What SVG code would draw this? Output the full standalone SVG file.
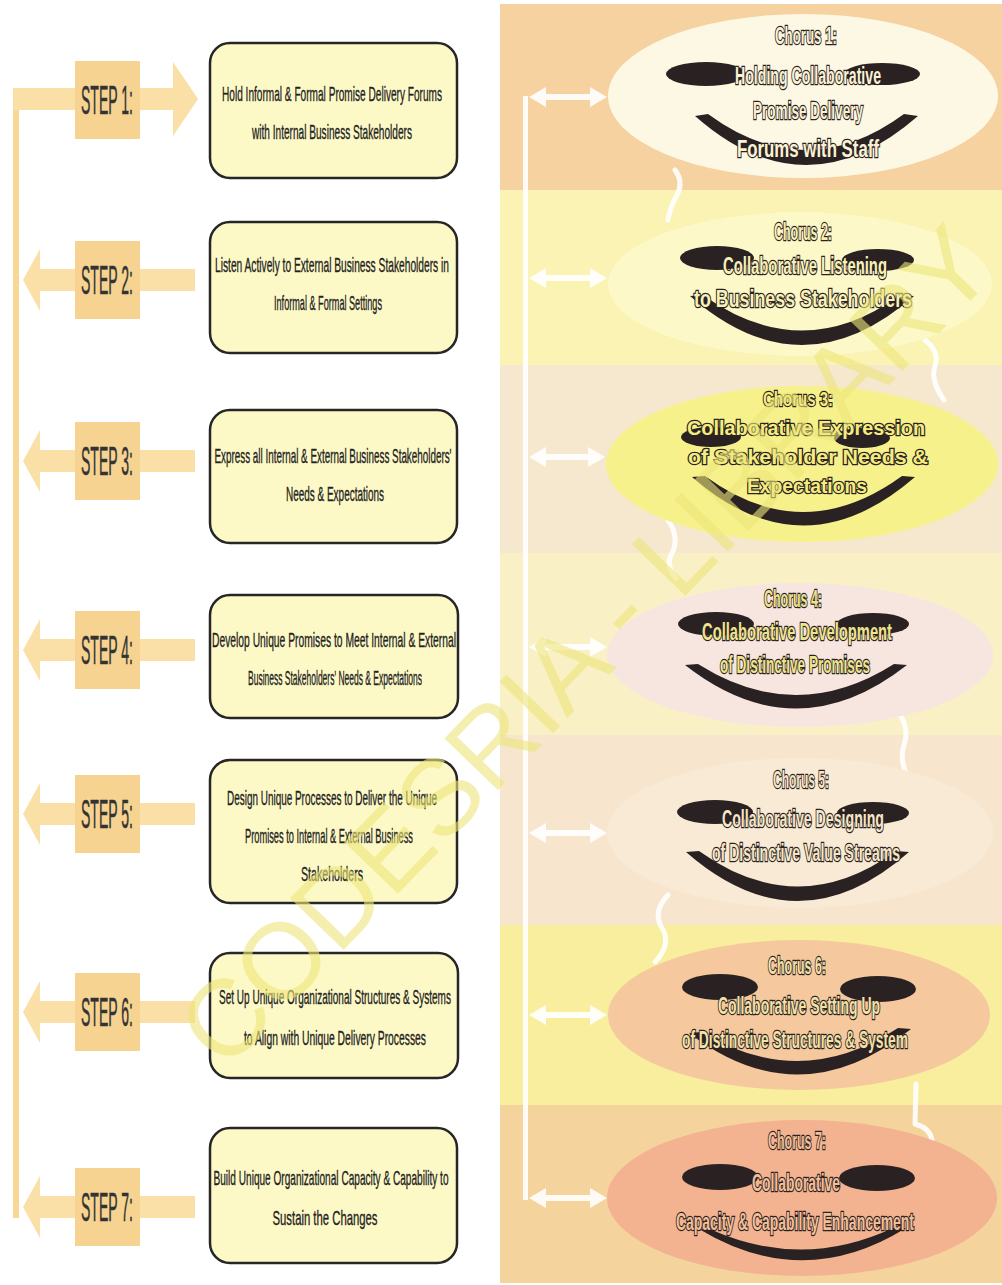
<svg xmlns="http://www.w3.org/2000/svg" width="1002" height="1285" viewBox="0 0 1002 1285">
  <style>
    .bg { fill: #ffffff; }
    .spine { fill: #f7d894; }
    .arrow { fill: #fadfa6; }
    .lbl { fill: #f6d390; }
    .lbltxt { font-family: "Liberation Sans Narrow", "Liberation Sans", Arial, sans-serif; font-size: 40px; fill: #333333; stroke: #333333; stroke-width: 0.5; text-anchor: middle; }
    .box { fill: #fdf9c6; stroke: #262626; stroke-width: 2.5; }
    .boxtxt { font-family: "Liberation Sans Narrow", "Liberation Sans", Arial, sans-serif; font-size: 21px; fill: #222222; stroke: #222222; stroke-width: 0.35; text-anchor: middle; }
    .feat { fill: #2a2222; }
    .ctxt { font-family: "Liberation Sans Narrow", "Liberation Sans", Arial, sans-serif; font-weight: bold; font-size: 23px; stroke: #2a2222; stroke-width: 2.4; paint-order: stroke; text-anchor: middle; }
    .ctxt3 { font-family: "Liberation Sans", Arial, sans-serif; font-size: 20px; }
    .link { fill: #ffffff; opacity: 0.9; }
    .bolt { fill: none; stroke: #ffffff; stroke-width: 5; stroke-linecap: round; stroke-linejoin: round; opacity: 0.9; }
    .mark { font-family: "Liberation Sans", Arial, sans-serif; font-size: 108px; fill: #ede67a; opacity: 0.6; text-anchor: middle; }
  </style>

  <rect class="bg" x="0" y="0" width="1002" height="1285"/>

  <!-- coloured bands behind the chorus column -->
  <g id="bands">
    <rect x="500" y="4" width="502" height="187" fill="#f5d2a0"/>
    <rect x="500" y="190" width="502" height="176" fill="#faf3b3"/>
    <rect x="500" y="365" width="502" height="189" fill="#f6e8cf"/>
    <rect x="500" y="553" width="502" height="183" fill="#faf0c6"/>
    <rect x="500" y="735" width="502" height="191" fill="#f7e6cd"/>
    <rect x="500" y="925" width="502" height="181" fill="#f8ee9e"/>
    <rect x="500" y="1105" width="502" height="178" fill="#f5d39d"/>
  </g>

  <!-- connectors -->
  <g id="connectors">
    <!-- left feedback spine and step arrows -->
    <rect class="spine" x="13" y="88" width="6" height="1130"/>
    <polygon class="arrow" points="13,88 173,88 173,62 198,99 173,136 173,110 13,110"/>
    <polygon class="arrow" points="23,280 40,249 40,269 195,269 195,291 40,291 40,311"/>
    <polygon class="arrow" points="23,461 40,430 40,450 195,450 195,472 40,472 40,492"/>
    <polygon class="arrow" points="23,650 40,619 40,639 195,639 195,661 40,661 40,681"/>
    <polygon class="arrow" points="23,814 40,783 40,803 195,803 195,825 40,825 40,845"/>
    <polygon class="arrow" points="23,1012 40,981 40,1001 195,1001 195,1023 40,1023 40,1043"/>
    <polygon class="arrow" points="23,1207 40,1176 40,1196 195,1196 195,1218 40,1218 40,1238"/>

    <!-- right spine and double-headed links to each chorus -->
    <rect class="link" x="523" y="96" width="5" height="1104"/>
    <g id="links">
      <polygon class="link" points="529,97 546,87 546,94 590,94 590,87 607,97 590,107 590,100 546,100 546,107"/>
      <polygon class="link" points="529,278 546,268 546,275 590,275 590,268 607,278 590,288 590,281 546,281 546,288"/>
      <polygon class="link" points="529,457 546,447 546,454 588,454 588,447 605,457 588,467 588,460 546,460 546,467" opacity="0.6"/>
      <polygon class="link" points="529,647 546,637 546,644 590,644 590,637 607,647 590,657 590,650 546,650 546,657" opacity="0.6"/>
      <polygon class="link" points="529,833 546,823 546,830 590,830 590,823 607,833 590,843 590,836 546,836 546,843" opacity="0.6"/>
      <polygon class="link" points="529,1015 546,1005 546,1012 590,1012 590,1005 607,1015 590,1025 590,1018 546,1018 546,1025"/>
      <polygon class="link" points="529,1198 546,1188 546,1195 590,1195 590,1188 607,1198 590,1208 590,1201 546,1201 546,1208"/>
    </g>

    <!-- lightning links between consecutive choruses -->
    <path class="bolt" d="M675,170 Q684,182 677,195 Q670,207 668,220"/>
    <path class="bolt" d="M925,340 Q940,352 935,366 Q930,380 944,400"/>
    <path class="bolt" d="M668,520 Q680,538 672,553 Q665,565 676,578" opacity="0.6"/>
    <path class="bolt" d="M898,712 Q910,728 904,745 Q898,762 912,785" opacity="0.6"/>
    <path class="bolt" d="M668,895 Q652,912 662,928 Q672,944 655,962"/>
    <path class="bolt" d="M916,1084 L915,1124 Q930,1128 932,1140 L934,1168"/>
  </g>

  <!-- step nodes -->
  <g id="step1">
    <rect class="lbl" x="75" y="61" width="65" height="78"/>
    <text class="lbltxt" x="107" y="114" textLength="52" lengthAdjust="spacingAndGlyphs">STEP 1:</text>
    <rect class="box" x="210" y="43" width="247" height="135" rx="20"/>
    <text class="boxtxt" x="332" y="101" textLength="220" lengthAdjust="spacingAndGlyphs">Hold Informal &amp; Formal Promise Delivery Forums</text>
    <text class="boxtxt" x="332" y="139" textLength="160" lengthAdjust="spacingAndGlyphs">with Internal Business Stakeholders</text>
  </g>
  <g id="step2">
    <rect class="lbl" x="75" y="241" width="65" height="78"/>
    <text class="lbltxt" x="107" y="294" textLength="52" lengthAdjust="spacingAndGlyphs">STEP 2:</text>
    <rect class="box" x="210" y="222" width="247" height="131" rx="20"/>
    <text class="boxtxt" x="332" y="272" textLength="234" lengthAdjust="spacingAndGlyphs">Listen Actively to External Business Stakeholders in</text>
    <text class="boxtxt" x="328" y="310" textLength="108" lengthAdjust="spacingAndGlyphs">Informal &amp; Formal Settings</text>
  </g>
  <g id="step3">
    <rect class="lbl" x="75" y="422" width="65" height="78"/>
    <text class="lbltxt" x="107" y="475" textLength="52" lengthAdjust="spacingAndGlyphs">STEP 3:</text>
    <rect class="box" x="210" y="410" width="247" height="133" rx="20"/>
    <text class="boxtxt" x="333" y="463" textLength="237" lengthAdjust="spacingAndGlyphs">Express all Internal &amp; External Business Stakeholders'</text>
    <text class="boxtxt" x="335" y="501" textLength="98" lengthAdjust="spacingAndGlyphs">Needs &amp; Expectations</text>
  </g>
  <g id="step4">
    <rect class="lbl" x="75" y="611" width="65" height="78"/>
    <text class="lbltxt" x="107" y="664" textLength="52" lengthAdjust="spacingAndGlyphs">STEP 4:</text>
    <rect class="box" x="210" y="595" width="248" height="123" rx="20"/>
    <text class="boxtxt" x="334" y="647" textLength="244" lengthAdjust="spacingAndGlyphs">Develop Unique Promises to Meet Internal &amp; External</text>
    <text class="boxtxt" x="335" y="685" textLength="174" lengthAdjust="spacingAndGlyphs">Business Stakeholders' Needs &amp; Expectations</text>
  </g>
  <g id="step5">
    <rect class="lbl" x="75" y="775" width="65" height="78"/>
    <text class="lbltxt" x="107" y="828" textLength="52" lengthAdjust="spacingAndGlyphs">STEP 5:</text>
    <rect class="box" x="210" y="760" width="247" height="143" rx="20"/>
    <text class="boxtxt" x="332" y="805" textLength="210" lengthAdjust="spacingAndGlyphs">Design Unique Processes to Deliver the Unique</text>
    <text class="boxtxt" x="329" y="843" textLength="168" lengthAdjust="spacingAndGlyphs">Promises to Internal &amp; External Business</text>
    <text class="boxtxt" x="332" y="881" textLength="62" lengthAdjust="spacingAndGlyphs">Stakeholders</text>
  </g>
  <g id="step6">
    <rect class="lbl" x="75" y="973" width="65" height="78"/>
    <text class="lbltxt" x="107" y="1026" textLength="52" lengthAdjust="spacingAndGlyphs">STEP 6:</text>
    <rect class="box" x="210" y="953" width="248" height="125" rx="20"/>
    <text class="boxtxt" x="335" y="1004" textLength="232" lengthAdjust="spacingAndGlyphs">Set Up Unique Organizational Structures &amp; Systems</text>
    <text class="boxtxt" x="335" y="1045" textLength="182" lengthAdjust="spacingAndGlyphs">to Align with Unique Delivery Processes</text>
  </g>
  <g id="step7">
    <rect class="lbl" x="75" y="1168" width="65" height="78"/>
    <text class="lbltxt" x="107" y="1221" textLength="52" lengthAdjust="spacingAndGlyphs">STEP 7:</text>
    <rect class="box" x="210" y="1128" width="247" height="135" rx="20"/>
    <text class="boxtxt" x="331" y="1185" textLength="235" lengthAdjust="spacingAndGlyphs">Build Unique Organizational Capacity &amp; Capability to</text>
    <text class="boxtxt" x="325" y="1225" textLength="105" lengthAdjust="spacingAndGlyphs">Sustain the Changes</text>
  </g>

  <!-- chorus nodes: ellipse, two eyes, a smile and outlined text -->
  <g id="chorus1">
    <ellipse cx="803" cy="96" rx="195" ry="82" fill="#fdf8e4"/>
    <ellipse class="feat" cx="706" cy="74" rx="40" ry="12"/>
    <ellipse class="feat" cx="882" cy="74" rx="38" ry="11"/>
    <path class="feat" d="M695,116 L708,114 Q806,186 904,114 L918,116 Q806,214 695,116 Z"/>
    <text class="ctxt" x="806" y="44" fill="#fbf2d6" textLength="62" lengthAdjust="spacingAndGlyphs">Chorus 1:</text>
    <text class="ctxt" x="808" y="84" fill="#fbf2d6" textLength="146" lengthAdjust="spacingAndGlyphs">Holding Collaborative</text>
    <text class="ctxt" x="808" y="119" fill="#fbf2d6" textLength="110" lengthAdjust="spacingAndGlyphs">Promise Delivery</text>
    <text class="ctxt" x="808" y="157" fill="#fbf2d6" textLength="142" lengthAdjust="spacingAndGlyphs">Forums with Staff</text>
  </g>
  <g id="chorus2">
    <ellipse cx="800" cy="284" rx="192" ry="72" fill="#fcf8c8"/>
    <ellipse class="feat" cx="717" cy="258" rx="37" ry="12"/>
    <ellipse class="feat" cx="878" cy="260" rx="36" ry="11"/>
    <path class="feat" d="M690,296 L703,295 Q802,366 900,295 L914,296 Q802,394 690,296 Z"/>
    <text class="ctxt" x="803" y="240" fill="#f8f1b8" textLength="58" lengthAdjust="spacingAndGlyphs">Chorus 2:</text>
    <text class="ctxt" x="805" y="274" fill="#f8f1b8" textLength="164" lengthAdjust="spacingAndGlyphs">Collaborative Listening</text>
    <text class="ctxt" x="803" y="307" fill="#f8f1b8" textLength="218" lengthAdjust="spacingAndGlyphs">to Business Stakeholders</text>
  </g>
  <g id="chorus3">
    <ellipse cx="802" cy="464" rx="196" ry="78" fill="#f7f18c"/>
    <ellipse class="feat" cx="711" cy="437" rx="30" ry="10"/>
    <ellipse class="feat" cx="862" cy="438" rx="28" ry="10"/>
    <path class="feat" d="M692,477 L705,476 Q803,548 902,476 L915,477 Q803,574 692,477 Z"/>
    <text class="ctxt ctxt3" x="798" y="406" fill="#f4ec7e" textLength="70" lengthAdjust="spacingAndGlyphs">Chorus 3:</text>
    <text class="ctxt ctxt3" x="806" y="435" fill="#f4ec7e" textLength="238" lengthAdjust="spacingAndGlyphs">Collaborative Expression</text>
    <text class="ctxt ctxt3" x="808" y="464" fill="#f4ec7e" textLength="240" lengthAdjust="spacingAndGlyphs">of Stakeholder Needs &amp;</text>
    <text class="ctxt ctxt3" x="807" y="493" fill="#f4ec7e" textLength="120" lengthAdjust="spacingAndGlyphs">Expectations</text>
  </g>
  <g id="chorus4">
    <ellipse cx="800" cy="655" rx="193" ry="72" fill="#f7e5e0"/>
    <ellipse class="feat" cx="716" cy="624" rx="38" ry="12"/>
    <ellipse class="feat" cx="873" cy="624" rx="36" ry="11"/>
    <path class="feat" d="M685,665 L698,664 Q796,726 894,664 L907,665 Q796,752 685,665 Z"/>
    <text class="ctxt" x="793" y="607" fill="#efe58c" textLength="58" lengthAdjust="spacingAndGlyphs">Chorus 4:</text>
    <text class="ctxt" x="797" y="640" fill="#efe58c" textLength="190" lengthAdjust="spacingAndGlyphs">Collaborative Development</text>
    <text class="ctxt" x="795" y="673" fill="#efe58c" textLength="150" lengthAdjust="spacingAndGlyphs">of Distinctive Promises</text>
  </g>
  <g id="chorus5">
    <ellipse cx="800" cy="833" rx="193" ry="75" fill="#f9ead5"/>
    <ellipse class="feat" cx="715" cy="812" rx="38" ry="12"/>
    <ellipse class="feat" cx="873" cy="813" rx="36" ry="11"/>
    <path class="feat" d="M686,852 L699,851 Q798,922 896,851 L909,852 Q798,950 686,852 Z"/>
    <text class="ctxt" x="801" y="788" fill="#f5e6c8" textLength="56" lengthAdjust="spacingAndGlyphs">Chorus 5:</text>
    <text class="ctxt" x="803" y="827" fill="#f5e6c8" textLength="162" lengthAdjust="spacingAndGlyphs">Collaborative Designing</text>
    <text class="ctxt" x="806" y="861" fill="#f5e6c8" textLength="188" lengthAdjust="spacingAndGlyphs">of Distinctive Value Streams</text>
  </g>
  <g id="chorus6">
    <ellipse cx="799" cy="1015" rx="191" ry="75" fill="#f5c89d"/>
    <ellipse class="feat" cx="720" cy="987" rx="38" ry="13"/>
    <ellipse class="feat" cx="878" cy="989" rx="38" ry="13"/>
    <path class="feat" d="M689,1033 L702,1032 Q800,1092 898,1028 L911,1029 Q800,1118 689,1033 Z"/>
    <text class="ctxt" x="797" y="974" fill="#f2e1a8" textLength="58" lengthAdjust="spacingAndGlyphs">Chorus 6:</text>
    <text class="ctxt" x="799" y="1014" fill="#f2e1a8" textLength="162" lengthAdjust="spacingAndGlyphs">Collaborative Setting Up</text>
    <text class="ctxt" x="795" y="1048" fill="#f2e1a8" textLength="226" lengthAdjust="spacingAndGlyphs">of Distinctive Structures &amp; System</text>
  </g>
  <g id="chorus7">
    <ellipse cx="802" cy="1198" rx="195" ry="78" fill="#f3b390"/>
    <ellipse class="feat" cx="720" cy="1177" rx="38" ry="13"/>
    <ellipse class="feat" cx="877" cy="1178" rx="38" ry="13"/>
    <path class="feat" d="M699,1229 L712,1230 Q803,1270 893,1228 L906,1228 Q803,1292 699,1229 Z"/>
    <text class="ctxt" x="797" y="1149" fill="#f1bf98" textLength="58" lengthAdjust="spacingAndGlyphs">Chorus 7:</text>
    <text class="ctxt" x="796" y="1191" fill="#f1bf98" textLength="88" lengthAdjust="spacingAndGlyphs">Collaborative</text>
    <text class="ctxt" x="795" y="1230" fill="#f1bf98" textLength="238" lengthAdjust="spacingAndGlyphs">Capacity &amp; Capability Enhancement</text>
  </g>

  <!-- diagonal library watermark -->
  <text class="mark" x="612" y="672" transform="rotate(-46 612 672)">CODESRIA - LIBRARY</text>
</svg>
